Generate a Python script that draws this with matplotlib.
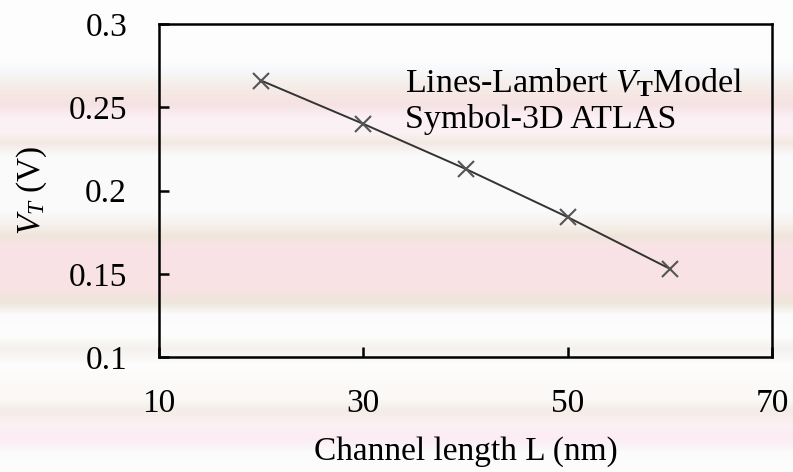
import numpy as np
import matplotlib
matplotlib.use("Agg")
import matplotlib.pyplot as plt
from matplotlib.colors import to_rgb

# Threshold voltage versus channel length
channel_length = [20, 30, 40, 50, 60]          # nm
vt_model = [0.266, 0.240, 0.213, 0.184, 0.153]  # V (Lambert-W model, line)
vt_atlas = [0.266, 0.240, 0.213, 0.184, 0.153]  # V (3D ATLAS, symbols)

x_ticks = [10, 30, 50, 70]
y_ticks = [0.1, 0.15, 0.2, 0.25, 0.3]
y_tick_labels = ["0.1", "0.15", "0.2", "0.25", "0.3"]

plt.rcParams["font.family"] = ["Liberation Serif", "DejaVu Serif"]
plt.rcParams["mathtext.fontset"] = "custom"
plt.rcParams["mathtext.rm"] = "Liberation Serif"
plt.rcParams["mathtext.it"] = "Liberation Serif:italic"
plt.rcParams["mathtext.bf"] = "Liberation Serif:bold"

W, H = 793, 472
fig = plt.figure(figsize=(W / 100, H / 100), dpi=100)

# banded paper-like backdrop
stops = [
    (0, "#fdfdfd"), (60, "#fdfdfd"), (70, "#f7f8fb"), (85, "#f5ede8"),
    (103, "#f5e2e2"), (118, "#fcf0f6"), (132, "#fbf2f4"), (142, "#f3e8e2"),
    (155, "#fafafb"), (210, "#fafbfc"), (225, "#f6f0ea"), (235, "#efe5dc"),
    (248, "#fae3e6"), (290, "#f9e2e4"), (302, "#ede6da"), (314, "#fbfbfb"),
    (335, "#fdfdfd"), (348, "#f4f1ee"), (365, "#fdfdfd"), (398, "#fbf8f6"),
    (410, "#f4ece6"), (425, "#fcf1f5"), (438, "#fbecf3"), (452, "#fbfbfb"),
    (472, "#fdfdfd"),
]
ys = np.arange(H)
pos = np.array([s[0] for s in stops], dtype=float)
cols = np.array([to_rgb(s[1]) for s in stops])
column = np.stack([np.interp(ys, pos, cols[:, k]) for k in range(3)], axis=1)
bg = np.repeat(column[:, None, :], W, axis=1)
bg_ax = fig.add_axes([0, 0, 1, 1], zorder=-10)
bg_ax.imshow(bg, aspect="auto", extent=[0, 1, 0, 1])
bg_ax.set_axis_off()

ax = fig.add_axes([159 / W, 1 - 357 / H, (772 - 159) / W, (357 - 24) / H])
ax.set_facecolor("none")

ax.plot(channel_length, vt_model, color="#333333", lw=1.4, zorder=2)
ax.plot(channel_length, vt_atlas, linestyle="none", marker="x",
        markersize=11, markeredgewidth=1.5, color="#555555", zorder=3)

ax.set_xlim(10, 70)
ax.set_ylim(0.1, 0.3)
ax.set_xticks(x_ticks)
ax.set_yticks(y_ticks)
ax.set_yticklabels(y_tick_labels)

for side in ["top", "right", "bottom", "left"]:
    ax.spines[side].set_linewidth(1.8)
    ax.spines[side].set_color("black")

ax.tick_params(axis="both", direction="in", length=7, width=1.8,
               labelsize=24, colors="black")
ax.tick_params(axis="x", pad=23)
ax.tick_params(axis="y", pad=23)

ax.set_xlabel("Channel length L (nm)", fontsize=24, labelpad=12)
ax.set_ylabel(r"$V_T$ (V)", fontsize=24, labelpad=14)

ax.text(0.401, 0.796, r"Lines-Lambert $V_{\mathbf{T}}$Model", transform=ax.transAxes,
        fontsize=24.5, ha="left", va="baseline")
ax.text(0.401, 0.688, "Symbol-3D ATLAS", transform=ax.transAxes,
        fontsize=24.5, ha="left", va="baseline")

fig.savefig("out.png", dpi=100)
